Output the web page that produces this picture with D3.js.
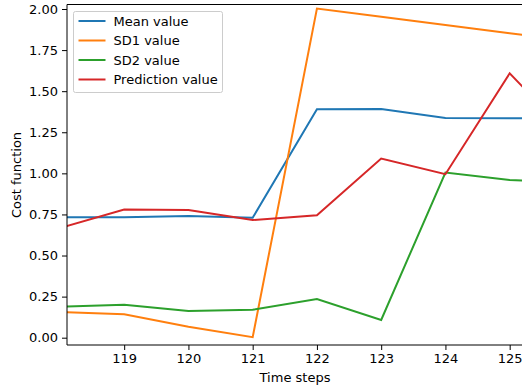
<!DOCTYPE html>
<html>
<head>
<meta charset="utf-8">
<script src="https://cdn.jsdelivr.net/npm/d3@7"></script>
<style>
  body { margin: 0; background: #fff; }
  svg { display: block; font-family: "DejaVu Sans", sans-serif; }
</style>
</head>
<body>
<div id="chart"></div>
<script>
// time steps (118 and 126 fall just outside the visible window and get clipped)
var steps = [118, 119, 120, 121, 122, 123, 124, 125, 126];
var meanValue = [0.733, 0.733, 0.740, 0.730, 1.390, 1.392, 1.337, 1.335, 1.335];
var sd1Value = [0.157, 0.142, 0.067, 0.003, 2.003, 1.953, 1.903, 1.853, 1.80];
var sd2Value = [0.188, 0.200, 0.162, 0.170, 0.235, 0.108, 1.005, 0.960, 0.94];
var predValue = [0.667, 0.780, 0.777, 0.716, 0.745, 1.090, 0.995, 1.609, 1.20];
var yTicks = [0, 0.25, 0.5, 0.75, 1.0, 1.25, 1.5, 1.75, 2.0];
var xTicks = [119, 120, 121, 122, 123, 124, 125];

var series = [
    { name: "Mean value", values: meanValue, color: "#1f77b4" },
    { name: "SD1 value", values: sd1Value, color: "#ff7f0e" },
    { name: "SD2 value", values: sd2Value, color: "#2ca02c" },
    { name: "Prediction value", values: predValue, color: "#d62728" }
];

(function () {
    var width = 522, height = 390,
        plotLeft = 67, plotTop = 4.5, plotRight = 530, plotBottom = 345;

    var svg = d3.select("#chart").append("svg")
        .attr("width", width).attr("height", height);

    var x = d3.scaleLinear().domain([118.11, 125.3]).range([plotLeft, plotLeft + (125.3 - 118.11) * 64.25]);
    var y = d3.scaleLinear().domain([0, 2]).range([337.7, 9]);

    svg.append("clipPath").attr("id", "plot")
        .append("rect").attr("x", plotLeft).attr("y", plotTop)
        .attr("width", plotRight - plotLeft).attr("height", plotBottom - plotTop);

    var line = d3.line()
        .x(function (d, i) { return x(steps[i]); })
        .y(function (d) { return y(d); });

    var g = svg.append("g").attr("clip-path", "url(#plot)");
    series.forEach(function (s) {
        g.append("path")
            .attr("d", line(s.values))
            .attr("fill", "none")
            .attr("stroke", s.color)
            .attr("stroke-width", 2)
            .attr("stroke-linejoin", "miter");
    });

    // axes
    var yAxis = svg.append("g").attr("transform", "translate(" + plotLeft + ",0)")
        .call(d3.axisLeft(y).tickValues(yTicks).tickSize(5).tickPadding(4).tickFormat(d3.format(".2f")));
    var xAxis = svg.append("g").attr("transform", "translate(0," + plotBottom + ")")
        .call(d3.axisBottom(x).tickValues(xTicks).tickSize(5).tickPadding(4).tickFormat(d3.format("d")));

    [yAxis, xAxis].forEach(function (a) {
        a.select(".domain").remove();
        a.selectAll("text").attr("font-size", 13).attr("fill", "#000").attr("font-family", "DejaVu Sans");
        a.selectAll("line").attr("stroke", "#000");
    });

    // spines
    svg.append("line").attr("x1", plotLeft).attr("x2", plotLeft).attr("y1", plotTop).attr("y2", plotBottom).attr("stroke", "#000");
    svg.append("line").attr("x1", plotLeft).attr("x2", width).attr("y1", plotBottom).attr("y2", plotBottom).attr("stroke", "#000");
    svg.append("line").attr("x1", plotLeft).attr("x2", width).attr("y1", plotTop).attr("y2", plotTop).attr("stroke", "#000");

    // axis labels
    svg.append("text").attr("x", 295).attr("y", 382).attr("text-anchor", "middle")
        .attr("font-size", 13).text("Time steps");
    svg.append("text").attr("transform", "translate(21,175) rotate(-90)").attr("text-anchor", "middle")
        .attr("font-size", 13).text("Cost function");

    // legend
    var legend = svg.append("g").attr("transform", "translate(73.5,11.5)");
    legend.append("rect").attr("width", 149).attr("height", 81).attr("rx", 2)
        .attr("fill", "#fff").attr("fill-opacity", 0.8).attr("stroke", "#ccc");
    series.forEach(function (s, i) {
        var row = legend.append("g").attr("transform", "translate(0," + (9.5 + i * 19.5) + ")");
        row.append("line").attr("x1", 5).attr("x2", 32).attr("stroke", s.color).attr("stroke-width", 2);
        row.append("text").attr("x", 40).attr("dy", "0.35em").attr("font-size", 13).text(s.name);
    });
})();
</script>
</body>
</html>
